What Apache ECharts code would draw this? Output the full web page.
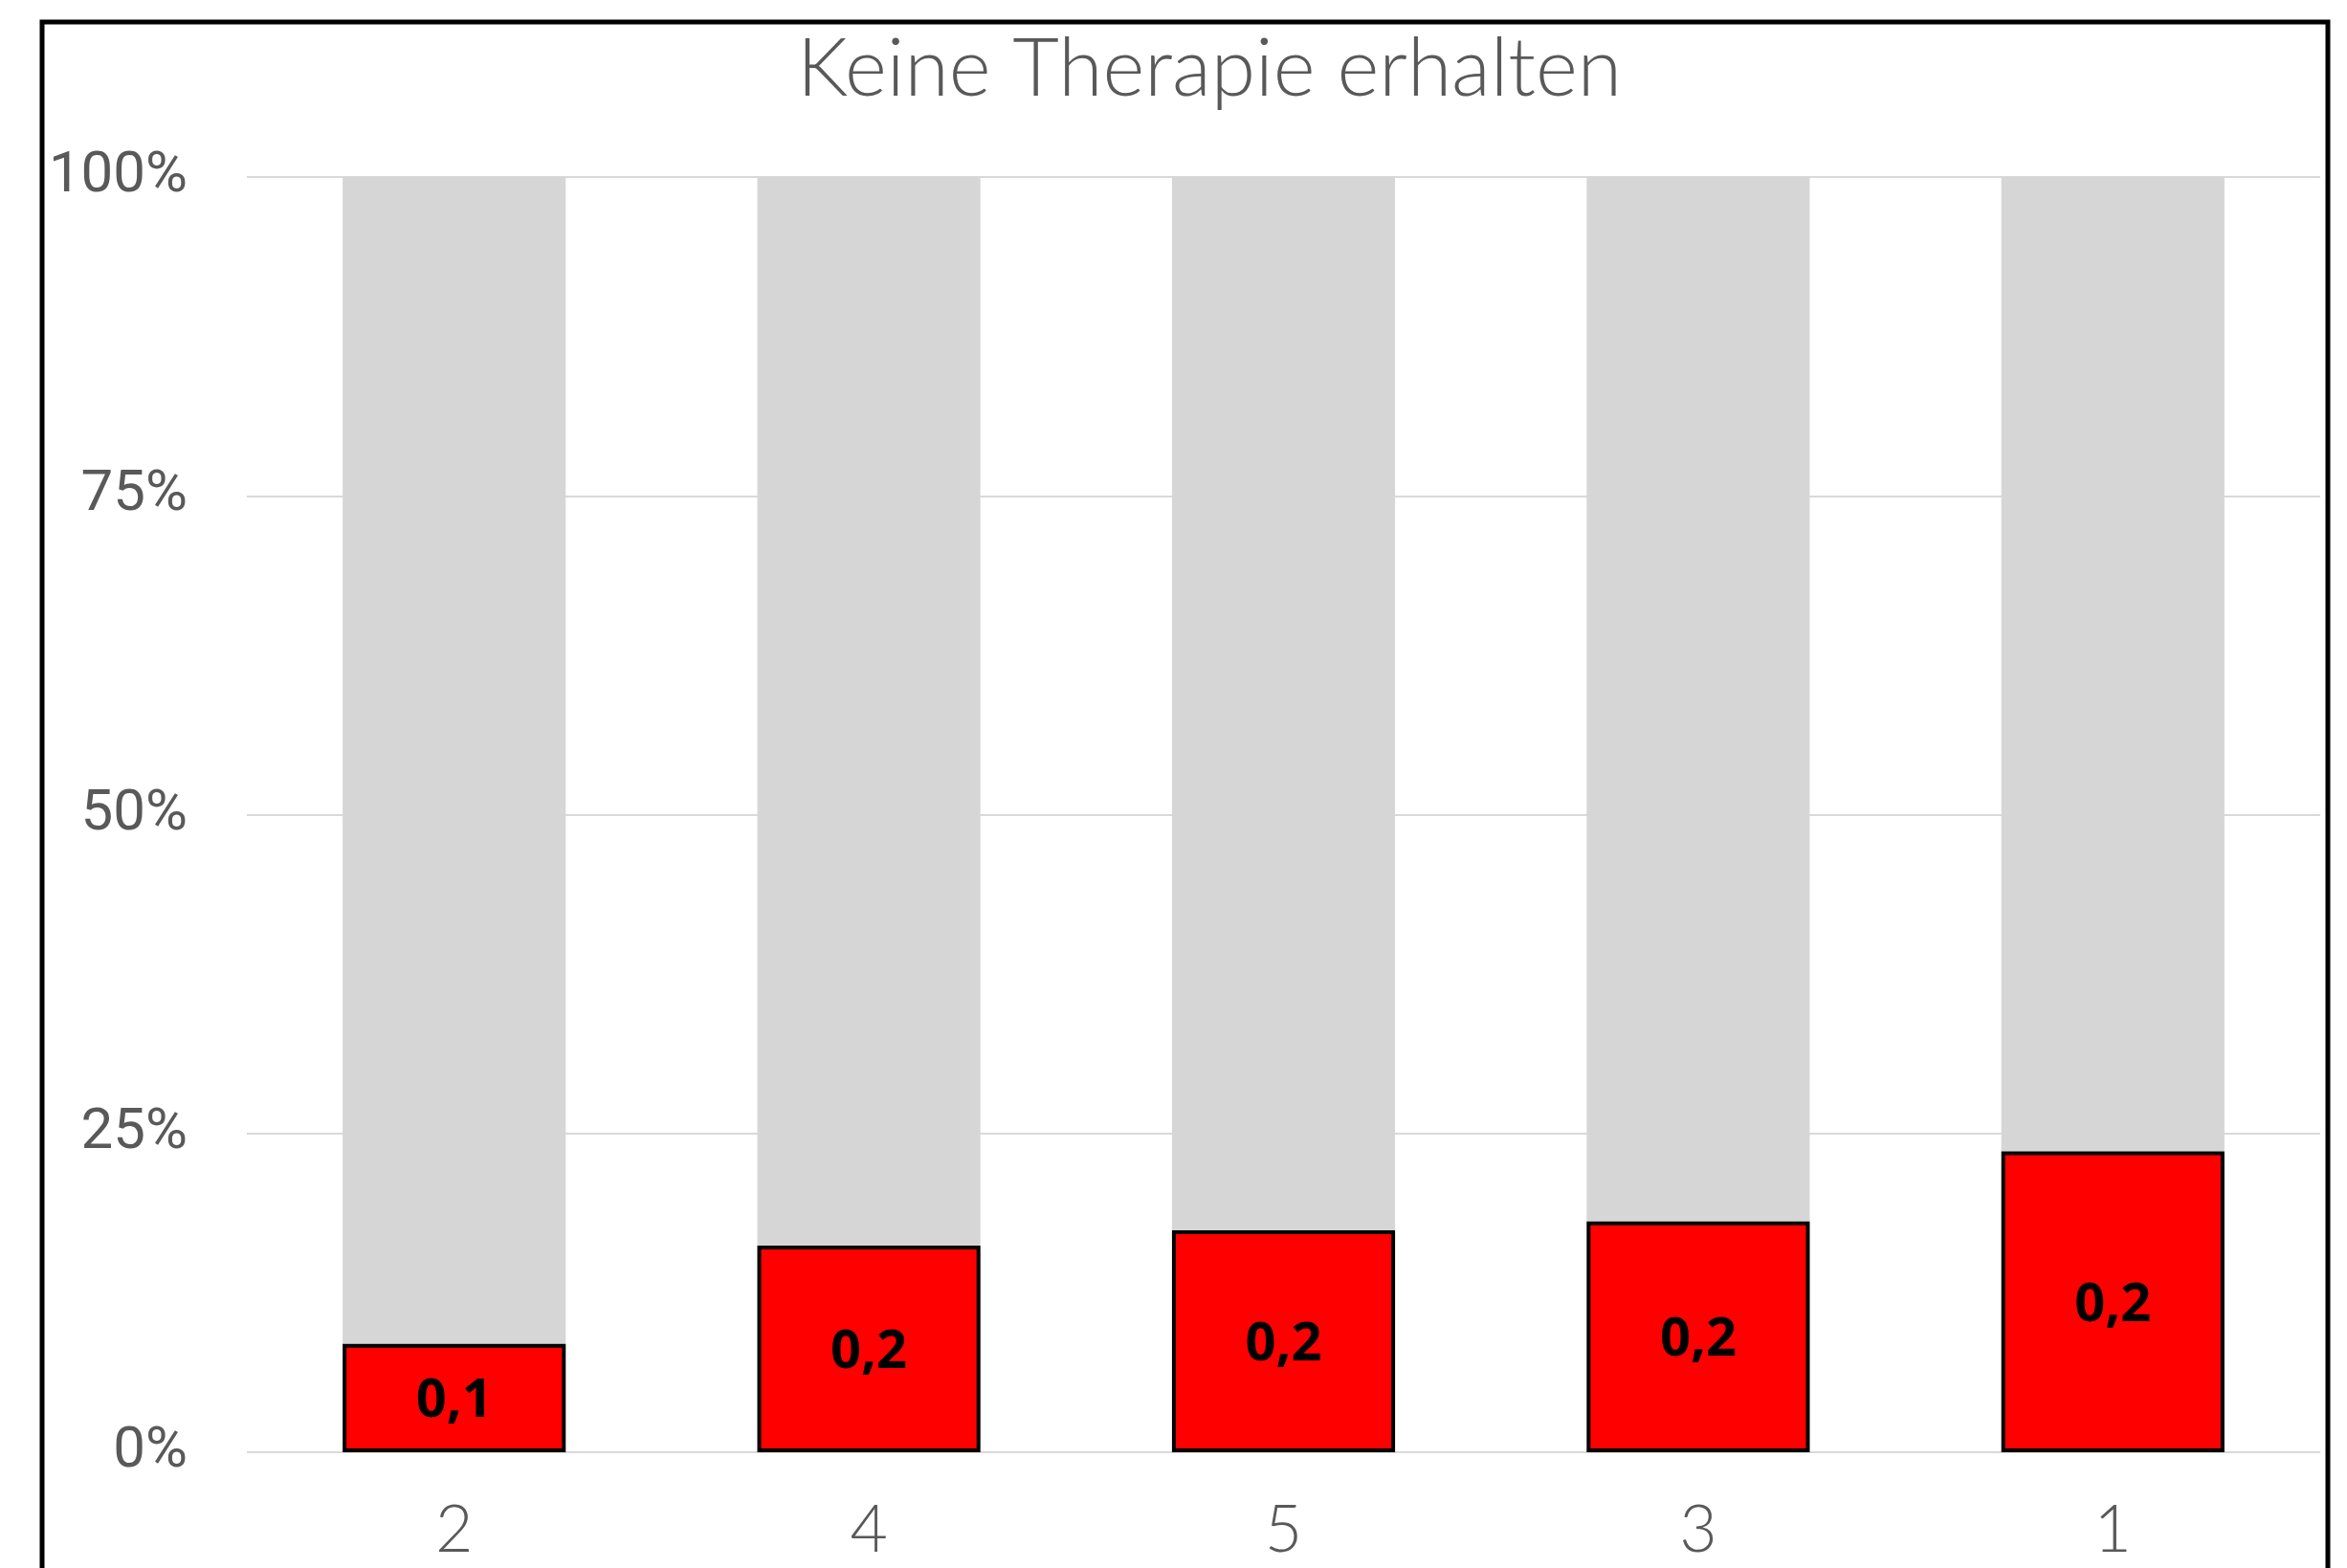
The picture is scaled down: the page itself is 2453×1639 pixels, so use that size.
<!DOCTYPE html>
<html>
<head>
<meta charset="utf-8">
<title>Keine Therapie erhalten</title>
<script src="https://cdn.jsdelivr.net/npm/echarts@6/dist/echarts.min.js"></script>
<style>
  html, body { margin: 0; padding: 0; background: #ffffff; }
  #myChart { width: 2453px; height: 1639px; }
</style>
</head>
<body>
<div id="myChart"></div>
<script>
// Kategorien (Reihenfolge wie im Original)
var categories = ['2', '4', '5', '3', '1'];
// Anteil "keine Therapie erhalten" (rot)
var noTherapy = [0.085, 0.162, 0.174, 0.181, 0.236];
// Restanteil bis 100% (grau)
var restShare = [0.915, 0.838, 0.826, 0.819, 0.764];
// Achsenbeschriftung y
var yTicks = [0, 0.25, 0.5, 0.75, 1];

var myChart = echarts.init(document.getElementById('myChart'));

var option = {
    backgroundColor: '#ffffff',
    animation: false,
    title: {
        text: 'Keine Therapie erhalten',
        left: 1259,
        top: 26,
        textAlign: 'center',
        textStyle: {
            fontFamily: 'Lato',
            fontWeight: 300,
            fontSize: 84,
            color: '#595959'
        }
    },
    graphic: [{
        type: 'rect',
        shape: { x: 44, y: 23, width: 2389, height: 1700 },
        style: { fill: 'none', stroke: '#000000', lineWidth: 5 },
        z: 100
    }],
    grid: {
        left: 258,
        right: 28,
        top: 185,
        bottom: 121
    },
    xAxis: {
        type: 'category',
        data: categories,
        axisLine: { show: false },
        axisTick: { show: false },
        axisLabel: {
            margin: 48,
            fontFamily: 'Lato',
            fontWeight: 300,
            fontSize: 68,
            color: '#595959'
        }
    },
    yAxis: {
        type: 'value',
        min: 0,
        max: 1,
        interval: 0.25,
        axisLine: { show: false },
        axisTick: { show: false },
        splitLine: { lineStyle: { color: '#d9d9d9', width: 2 } },
        axisLabel: {
            margin: 62,
            fontFamily: 'Roboto',
            fontSize: 60,
            color: '#595959',
            formatter: function (v) {
                return yTicks.indexOf(v) >= 0 ? Math.round(v * 100) + '%' : '';
            }
        }
    },
    series: [{
        name: 'Keine Therapie',
        type: 'bar',
        stack: 'total',
        barWidth: '53.8%',
        data: noTherapy,
        itemStyle: { color: '#ff0000', borderColor: '#000000', borderWidth: 4 },
        label: {
            show: true,
            position: 'inside',
            offset: [0, 4],
            fontFamily: 'Open Sans',
            fontWeight: 'bold',
            fontSize: 56,
            color: '#000000',
            formatter: function (p) {
                return p.value.toFixed(1).replace('.', ',');
            }
        },
        z: 3
    }, {
        name: 'Rest',
        type: 'bar',
        stack: 'total',
        barWidth: '53.8%',
        data: restShare,
        itemStyle: { color: '#d6d6d6' },
        z: 2
    }]
};

myChart.setOption(option);
</script>
</body>
</html>
